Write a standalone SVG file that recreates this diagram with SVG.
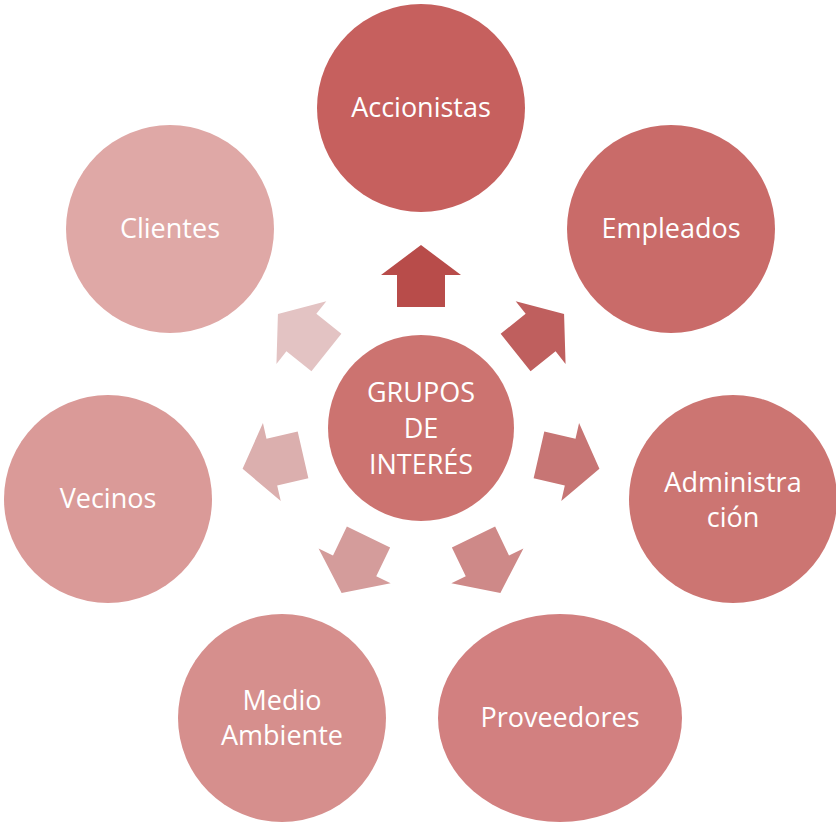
<svg xmlns="http://www.w3.org/2000/svg" xmlns:xlink="http://www.w3.org/1999/xlink" width="836" height="824" viewBox="0 0 836 824">
<style>
text{font-family:"Open Sans","Liberation Sans",sans-serif;font-size:27px;fill:#fff;text-anchor:middle}
</style>
<defs>
<path id="arr" d="M397,307 L397,275 L381,275 L421,245 L461,275 L445,275 L445,307 Z"/>
</defs>
<rect width="836" height="824" fill="#fff"/>
<g id="connectors">
<use xlink:href="#arr" fill="#B84C4A"/>
<use xlink:href="#arr" fill="#BF5F5E" transform="rotate(51.43 421 428)"/>
<use xlink:href="#arr" fill="#C77574" transform="rotate(102.86 421 428)"/>
<use xlink:href="#arr" fill="#CE8988" transform="rotate(154.29 421 428)"/>
<use xlink:href="#arr" fill="#D49C9B" transform="rotate(205.71 421 428)"/>
<use xlink:href="#arr" fill="#DBAFAE" transform="rotate(257.14 421 428)"/>
<use xlink:href="#arr" fill="#E3C3C3" transform="rotate(308.57 421 428)"/>
</g>
<g id="center">
<circle cx="421" cy="428" r="93" fill="#CC7370"/>
<text x="421" y="402">GRUPOS</text>
<text x="421" y="438">DE</text>
<text x="421" y="474">INTERÉS</text>
</g>
<g id="accionistas">
<circle cx="421" cy="108" r="104" fill="#C6605E"/>
<text x="421" y="117">Accionistas</text>
</g>
<g id="empleados">
<circle cx="671" cy="229" r="104" fill="#C96B69"/>
<text x="671" y="238">Empleados</text>
</g>
<g id="administracion">
<circle cx="733" cy="499" r="104" fill="#CC7572"/>
<text x="733" y="492">Administra</text>
<text x="733" y="527">ción</text>
</g>
<g id="proveedores">
<ellipse cx="560" cy="718" rx="122" ry="104" fill="#D28080"/>
<text x="560" y="727">Proveedores</text>
</g>
<g id="medio-ambiente">
<circle cx="282" cy="718" r="104" fill="#D68F8D"/>
<text x="282" y="710">Medio</text>
<text x="282" y="745">Ambiente</text>
</g>
<g id="vecinos">
<circle cx="108" cy="499" r="104" fill="#DA9A98"/>
<text x="108" y="508">Vecinos</text>
</g>
<g id="clientes">
<circle cx="170" cy="229" r="104" fill="#DFA8A6"/>
<text x="170" y="238">Clientes</text>
</g>
</svg>
